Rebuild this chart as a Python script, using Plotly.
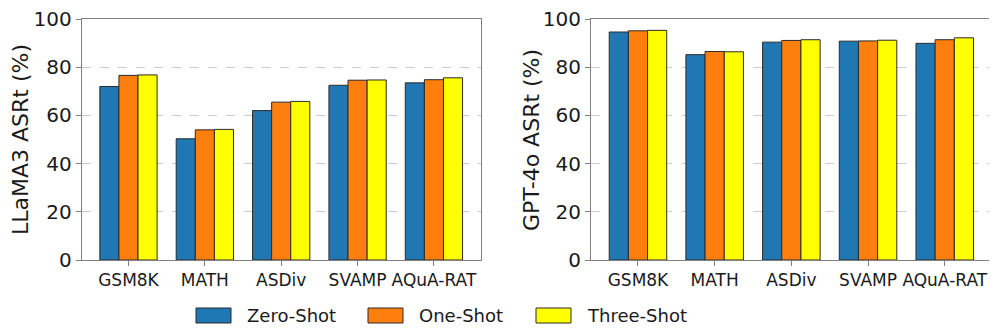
import plotly.graph_objects as go
from plotly.subplots import make_subplots

datasets = ["GSM8K", "MATH", "ASDiv", "SVAMP", "AQuA-RAT"]
settings = ["Zero-Shot", "One-Shot", "Three-Shot"]
colors = ["#1f77b4", "#ff7f0e", "#ffff00"]

# LLaMA3 attack success rate (%)
llama_zero = [72.0, 50.3, 62.0, 72.5, 73.5]
llama_one = [76.6, 54.0, 65.5, 74.6, 74.8]
llama_three = [76.8, 54.2, 65.8, 74.7, 75.6]

# GPT-4o attack success rate (%)
gpt_zero = [94.6, 85.2, 90.4, 90.8, 89.9]
gpt_one = [95.1, 86.5, 91.1, 90.9, 91.4]
gpt_three = [95.3, 86.4, 91.4, 91.2, 92.2]

W, H = 997, 329
OFF = 8  # page body margin, positions below are in window pixels
fig = make_subplots(rows=1, cols=2, horizontal_spacing=0.1)

panels = [(llama_zero, llama_one, llama_three), (gpt_zero, gpt_one, gpt_three)]
for col, series in enumerate(panels, start=1):
    for name, vals, c in zip(settings, series, colors):
        fig.add_trace(go.Bar(x=datasets, y=vals, name=name, marker_color=c,
                             marker_line=dict(color="#2b2b2b", width=1),
                             showlegend=False), row=1, col=col)

axis_font = dict(family="DejaVu Sans", color="#1a1a1a")
common_x = dict(type="category", range=[-0.6125, 4.6125], showline=True, mirror=True,
                linecolor="#808080", linewidth=1, ticks="outside", ticklen=5,
                tickcolor="#808080", showgrid=False, zeroline=False, automargin=False,
                tickfont=dict(size=17, **axis_font))
common_y = dict(range=[0, 100], tickvals=[0, 20, 40, 60, 80, 100], showline=True,
                mirror=True, linecolor="#808080", linewidth=1, ticks="outside",
                ticklen=5, tickcolor="#808080", showgrid=True, gridcolor="#cccccc",
                griddash="dash", gridwidth=1, zeroline=False, automargin=False,
                ticklabeloverflow="allow", tickfont=dict(size=20, **axis_font))


def px_x(p):
    return (p - OFF) / W


def px_y(p):
    return (H - (p - OFF)) / H


ydom = [px_y(260), px_y(19)]
fig.update_xaxes(common_x)
fig.update_yaxes(common_y)
fig.update_layout(
    xaxis=dict(domain=[px_x(81.7), px_x(480.7)]),
    xaxis2=dict(domain=[px_x(591), px_x(991.7)]),
    yaxis=dict(domain=ydom),
    yaxis2=dict(domain=ydom),
)

# y axis titles
for text, tx in [("LLaMA3 ASRt (%)", 21), ("GPT-4o ASRt (%)", 532)]:
    fig.add_annotation(xref="paper", yref="paper", x=px_x(tx), y=px_y(140),
                       text=text, textangle=-90, showarrow=False,
                       xanchor="center", yanchor="middle",
                       font=dict(size=22, **axis_font))

# legend drawn below both panels
legend_x = [196, 368, 536]
for name, c, lx in zip(settings, colors, legend_x):
    fig.add_shape(type="rect", xref="paper", yref="paper",
                  x0=px_x(lx), x1=px_x(lx + 35), y0=px_y(323), y1=px_y(308),
                  fillcolor=c, line=dict(color="#2b2b2b", width=1))
    fig.add_annotation(xref="paper", yref="paper", x=px_x(lx + 49), y=px_y(315.5),
                       text=name, showarrow=False, xanchor="left", yanchor="middle",
                       font=dict(size=18, **axis_font))

fig.update_layout(
    width=W, height=H, barmode="group", bargap=0.25, bargroupgap=0,
    margin=dict(l=0, r=0, t=0, b=0, autoexpand=False),
    plot_bgcolor="white", paper_bgcolor="white",
    font=dict(family="DejaVu Sans"),
)

fig.write_html("out.html")
